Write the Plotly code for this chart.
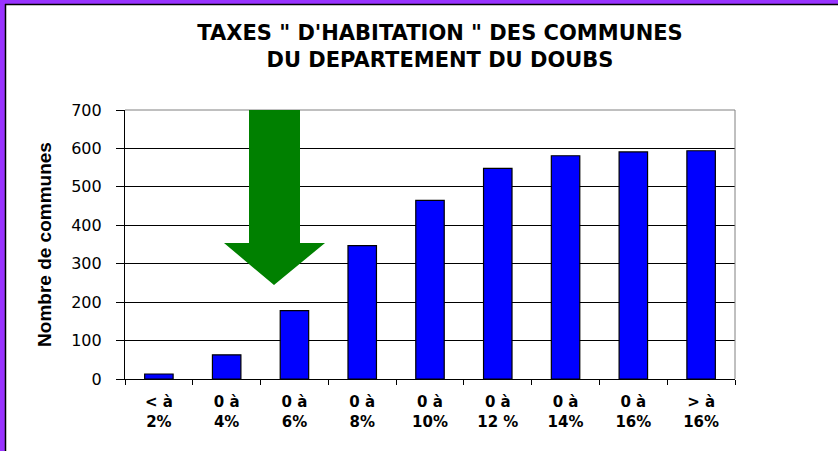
import plotly.graph_objects as go

categories = ["< à<br>2%", "0 à<br>4%", "0 à<br>6%", "0 à<br>8%", "0 à<br>10%",
              "0 à<br>12 %", "0 à<br>14%", "0 à<br>16%", "> à<br>16%"]
values = [13, 63, 178, 347, 465, 548, 581, 591, 594]
y_ticks = [0, 100, 200, 300, 400, 500, 600, 700]

W, H = 838, 451
L, R, T, B = 125, 103, 110, 72
PW, PH = W - L - R, H - T - B


def px(x):
    return (x - L) / PW


def py(y):
    return (H - B - y) / PH


fig = go.Figure()
fig.add_trace(go.Bar(
    x=categories, y=values,
    marker=dict(color="#0000FF", line=dict(color="black", width=1.2)),
    width=0.42,
))

shapes = []
# purple frame on top and left
shapes.append(dict(type="rect", xref="paper", yref="paper", x0=px(0), x1=px(5), y0=py(H), y1=py(0),
                   fillcolor="#9933FF", line=dict(width=0), layer="below"))
shapes.append(dict(type="rect", xref="paper", yref="paper", x0=px(0), x1=px(W), y0=py(4), y1=py(0),
                   fillcolor="#9933FF", line=dict(width=0), layer="below"))
shapes.append(dict(type="line", xref="paper", yref="paper", x0=px(5.5), x1=px(5.5), y0=py(H), y1=py(4),
                   line=dict(color="black", width=1.5)))
shapes.append(dict(type="line", xref="paper", yref="paper", x0=px(5), x1=px(W), y0=py(4.5), y1=py(4.5),
                   line=dict(color="black", width=1.5)))
# plot frame top and right (gray)
shapes.append(dict(type="line", xref="paper", yref="paper", x0=0, x1=1, y0=1, y1=1,
                   line=dict(color="#808080", width=1)))
shapes.append(dict(type="line", xref="paper", yref="paper", x0=1, x1=1, y0=0, y1=1,
                   line=dict(color="#808080", width=1)))
# green arrow (decoration)
ax = [249, 300, 325, 274, 224]
ay = [110, 243, 285]
path = (f"M {px(ax[0])},{py(ay[0])} L {px(ax[1])},{py(ay[0])} L {px(ax[1])},{py(ay[1])} "
        f"L {px(ax[2])},{py(ay[1])} L {px(ax[3])},{py(ay[2])} L {px(ax[4])},{py(ay[1])} "
        f"L {px(ax[0])},{py(ay[1])} Z")
shapes.append(dict(type="path", xref="paper", yref="paper", path=path,
                   fillcolor="#008000", line=dict(width=0), layer="above"))

fig.update_layout(
    width=W, height=H,
    margin=dict(l=L, r=R, t=T, b=B),
    paper_bgcolor="white", plot_bgcolor="white",
    showlegend=False,
    title=dict(text="TAXES \" D'HABITATION \" DES COMMUNES<br>DU DEPARTEMENT DU DOUBS",
               x=440 / W, xanchor="center", y=1 - 40 / H, yanchor="middle",
               font=dict(family="DejaVu Sans", size=21, color="black", weight="bold")),
    shapes=shapes,
)
fig.update_xaxes(
    type="category", showline=True, linecolor="black", linewidth=1.2,
    ticks="outside", tickson="boundaries", ticklen=5, tickcolor="black",
    ticklabelstandoff=9,
    tickfont=dict(family="DejaVu Sans", size=15, color="black", weight="bold"),
    showgrid=False, mirror=False,
)
fig.update_yaxes(
    range=[0, 700], tickvals=y_ticks, showline=True, linecolor="black", linewidth=1.2,
    ticks="outside", ticklen=8, tickcolor="black", ticklabelstandoff=11,
    tickfont=dict(family="DejaVu Sans", size=16, color="black"),
    showgrid=True, gridcolor="black", gridwidth=1, zeroline=False,
    title=dict(text="Nombre de communes",
               font=dict(family="Liberation Sans", size=19, color="black", weight="bold"),
               standoff=14),
)
fig.write_html("out.html", post_script="document.body.style.margin='0';",
               config={"displayModeBar": False})
